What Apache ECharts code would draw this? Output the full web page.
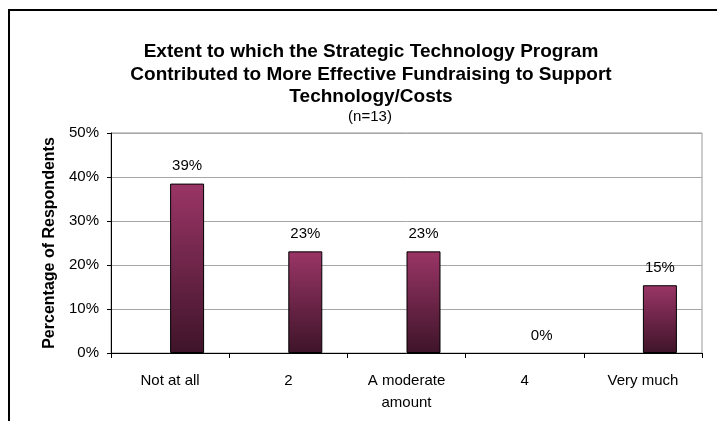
<!DOCTYPE html>
<html>
<head>
<meta charset="utf-8">
<script src="https://cdn.jsdelivr.net/npm/echarts@6/dist/echarts.min.js"></script>
<style>
  html, body { margin: 0; padding: 0; background: #fff; }
  #chart { width: 717px; height: 421px; }
</style>
</head>
<body>
<div id="chart"></div>
<script>
// categories and values (percent of 13 respondents)
const categories = ['Not at all', '2', 'A moderate\namount', '4', 'Very much'];
const respondents = [38.5, 23.1, 23.1, 0, 15.4];
// Excel left an empty first series in the cluster, which pushes the bars right
const emptySeries = [null, null, null, null, null];
const yTicks = { min: 0, max: 50, interval: 10 };

const titleText = 'Extent to which the Strategic Technology Program\nContributed to More Effective Fundraising to Support\nTechnology/Costs';
const subTitle = '(n=13)';

const font = 'Liberation Sans, Arial, sans-serif';

const myChart = echarts.init(document.getElementById('chart'), null, { renderer: 'canvas' });

const barFill = new echarts.graphic.LinearGradient(0, 0, 0, 1, [
  { offset: 0, color: '#9a3566' },
  { offset: 1, color: '#3e1429' }
]);

// zero bars have no visible outline in the original
const barData = respondents.map(v => (v === 0 ? { value: v, itemStyle: { borderWidth: 0 } } : v));

const option = {
  backgroundColor: '#fff',
  animation: false,
  title: [{
    text: titleText,
    left: 366,
    textAlign: 'center',
    top: 36,
    textStyle: { fontFamily: font, fontSize: 19, fontWeight: 'bold', color: '#000', lineHeight: 22.5 }
  }, {
    text: subTitle,
    left: 365,
    textAlign: 'center',
    top: 104,
    textStyle: { fontFamily: font, fontSize: 15, fontWeight: 'normal', color: '#000' }
  }],
  graphic: [{
    type: 'rect',
    silent: true,
    shape: { x: 9, y: 10, width: 800, height: 500 },
    style: { fill: 'none', stroke: '#000', lineWidth: 2 }
  }],
  grid: {
    left: 111,
    right: 15,
    top: 133,
    bottom: 68,
    show: true,
    borderColor: '#999',
    borderWidth: 1,
    backgroundColor: 'transparent'
  },
  xAxis: {
    type: 'category',
    data: categories,
    boundaryGap: true,
    axisLine: { lineStyle: { color: '#000', width: 1 } },
    axisTick: { show: true, alignWithLabel: false, length: 5, lineStyle: { color: '#000' } },
    axisLabel: { fontFamily: font, fontSize: 15, color: '#000', margin: 17, lineHeight: 22, interval: 0 }
  },
  yAxis: {
    type: 'value',
    min: yTicks.min,
    max: yTicks.max,
    interval: yTicks.interval,
    name: 'Percentage of Respondents',
    nameLocation: 'middle',
    nameGap: 53,
    nameTextStyle: { fontFamily: font, fontSize: 16, fontWeight: 'bold', color: '#000' },
    axisLine: { show: true, lineStyle: { color: '#000', width: 1 } },
    axisTick: { show: true, length: 4, lineStyle: { color: '#000' } },
    axisLabel: { fontFamily: font, fontSize: 15, color: '#000', margin: 12, formatter: '{value}%' },
    splitLine: { show: true, lineStyle: { color: '#a6a6a6', width: 1 } }
  },
  series: [{
    type: 'bar',
    name: 'blank',
    data: emptySeries,
    barWidth: 34,
    barGap: '0%'
  }, {
    type: 'bar',
    name: 'Respondents',
    data: barData,
    barWidth: 34,
    barGap: '0%',
    itemStyle: { color: barFill, borderColor: '#000', borderWidth: 1 },
    label: {
      show: true,
      position: 'top',
      distance: 10,
      fontFamily: font,
      fontSize: 15,
      color: '#000',
      formatter: p => Math.round(p.value) + '%'
    }
  }]
};

myChart.setOption(option);
</script>
</body>
</html>
